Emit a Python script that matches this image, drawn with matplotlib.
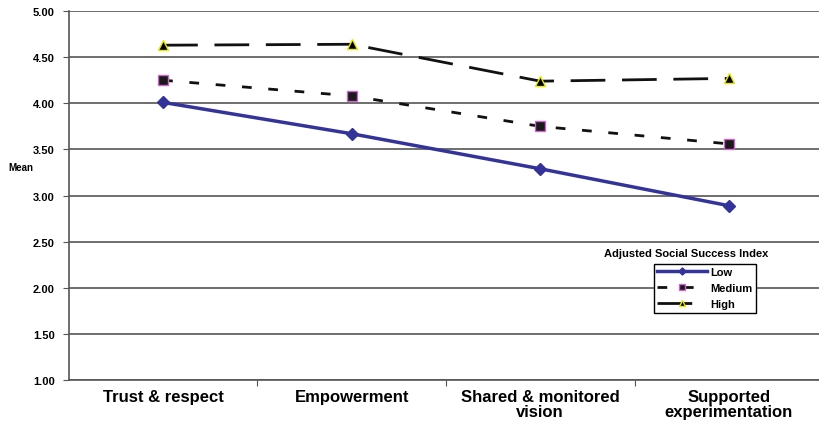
import matplotlib
matplotlib.use("Agg")
from matplotlib import pyplot as plt

categories = ["Trust & respect", "Empowerment", "Shared & monitored\nvision", "Supported\nexperimentation"]
low = [4.01, 3.67, 3.29, 2.89]
medium = [4.25, 4.08, 3.75, 3.56]
high = [4.63, 4.64, 4.24, 4.27]
yticks = [1.00, 1.50, 2.00, 2.50, 3.00, 3.50, 4.00, 4.50, 5.00]

plt.rcParams['font.family'] = ['Liberation Sans', 'DejaVu Sans']

fig = plt.figure(figsize=(8.19, 4.31), dpi=100)
ax = fig.add_axes([0.084, 0.116, 0.921, 0.856])

x = range(len(categories))
ax.plot(x, low, color='#333399', lw=2.5, marker='D', ms=6, label='Low', zorder=3)
ax.plot(x, medium, color='#111111', lw=2, linestyle=(0, (3.5, 6)), marker='s', ms=7.5,
        mfc='#1a1a1a', mec='#cc66cc', mew=1, label='Medium', zorder=3)
ax.plot(x, high, color='#111111', lw=2, linestyle=(0, (12.5, 6)), marker='^', ms=7.5,
        mfc='black', mec='#e8e800', mew=1, label='High', zorder=3)

ax.set_xlim(-0.5, 3.5)
ax.set_ylim(1, 5)
ax.set_yticks(yticks)
ax.set_yticklabels(["%.2f" % v for v in yticks], fontsize=8, fontweight='bold')
ax.yaxis.grid(True, color='#555555', lw=1.2)
ax.set_axisbelow(True)

ax.set_xticks([0.5, 1.5, 2.5])
ax.set_xticklabels([])
ax.tick_params(axis='x', length=4, color='#555555')
ax.tick_params(axis='y', length=4, color='#555555', pad=6)
for i, c in enumerate(categories):
    ax.text(i, 0.90, c, ha='center', va='top', fontsize=12, fontweight='bold',
            linespacing=0.95, clip_on=False)

for s in ['top', 'right']:
    ax.spines[s].set_visible(False)
ax.spines['left'].set_color('#555555')
ax.spines['bottom'].set_color('#555555')
ax.spines['left'].set_linewidth(1.2)
ax.spines['bottom'].set_linewidth(1.2)

fig.text(0.01, 0.61, "Mean", fontsize=7, fontweight='bold', va='center')

fig.text(0.737, 0.410, "Adjusted Social Success Index", fontsize=8, fontweight='bold', va='center')
leg = ax.legend(loc='upper left', bbox_to_anchor=(0.798, 0.386), bbox_transform=fig.transFigure,
                prop={'weight': 'bold', 'size': 8}, frameon=True, fancybox=False,
                edgecolor='black', handlelength=4.5, borderpad=0.3, labelspacing=0.55,
                borderaxespad=0, handletextpad=0.3, markerscale=0.6)
leg.get_frame().set_linewidth(1)
leg.get_frame().set_alpha(1)

fig.savefig("out.png", dpi=100)
